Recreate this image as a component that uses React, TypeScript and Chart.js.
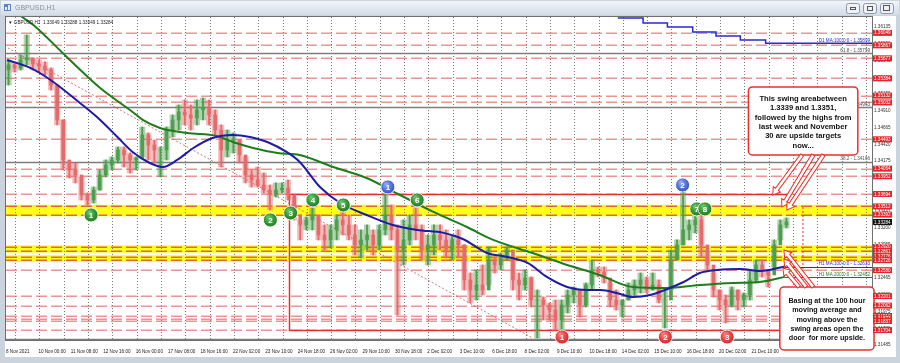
import React, { useEffect, useRef } from "react";
import { Chart, registerables } from "chart.js";

Chart.register(...registerables);

// ---------------- data ----------------
const barsPerCandle = 6; // each drawn candle aggregates 6 hourly bars
const firstOpen = 1.35507;
const candleHigh = [
  1.35653, 1.35624, 1.35726, 1.36018, 1.35682, 1.35653, 1.35624, 1.35536, 1.35287, 1.34776,
  1.34147, 1.34147, 1.33943, 1.33708, 1.33796, 1.34045, 1.34191, 1.34235, 1.34381, 1.34381,
  1.34293, 1.34235, 1.34673, 1.34586, 1.34482, 1.34381, 1.34673, 1.34849, 1.34995, 1.35068,
  1.34995, 1.35068, 1.35097, 1.35068, 1.34922, 1.34703, 1.34629, 1.34586, 1.34482, 1.34235,
  1.34045, 1.34088, 1.34001, 1.33825, 1.33855, 1.33855, 1.33898, 1.3365, 1.33314, 1.33357,
  1.33489, 1.33387, 1.33241, 1.33241, 1.33387, 1.3346, 1.33387, 1.33241, 1.33168, 1.33241,
  1.33168, 1.33241, 1.33708, 1.33533, 1.33241, 1.33314, 1.33387, 1.33489, 1.33241, 1.33095,
  1.33241, 1.33241, 1.33168, 1.33095, 1.33168, 1.32949, 1.32539, 1.32583, 1.32656, 1.32919,
  1.32773, 1.32831, 1.32919, 1.32729, 1.32539, 1.32583, 1.32481, 1.3229, 1.32188, 1.32101,
  1.32144, 1.32144, 1.3229, 1.32334, 1.3229, 1.32393, 1.32729, 1.32626, 1.32626, 1.32393,
  1.3229, 1.32144, 1.32393, 1.32437, 1.32539, 1.32481, 1.32539, 1.32437, 1.3229, 1.32875,
  1.33022, 1.33752, 1.33314, 1.33416, 1.33416, 1.32875, 1.32539, 1.3229, 1.32217, 1.32334,
  1.3229, 1.32246, 1.32583, 1.32729, 1.32729, 1.32583, 1.33022, 1.33314, 1.33343,
];
const candleLow = [
  1.35287, 1.35477, 1.35507, 1.3558, 1.35507, 1.35477, 1.35434, 1.35214, 1.34703, 1.34045,
  1.33928, 1.33855, 1.33606, 1.33533, 1.33562, 1.33752, 1.33943, 1.34045, 1.34147, 1.34088,
  1.34001, 1.34045, 1.34235, 1.34191, 1.34147, 1.33943, 1.34191, 1.34527, 1.34629, 1.34703,
  1.34629, 1.34703, 1.34776, 1.34703, 1.34556, 1.34088, 1.34235, 1.34293, 1.34147, 1.33855,
  1.33796, 1.33796, 1.33708, 1.3346, 1.3365, 1.33708, 1.33606, 1.33314, 1.33022, 1.33168,
  1.33168, 1.33022, 1.32875, 1.32904, 1.33022, 1.33095, 1.33022, 1.32802, 1.32758, 1.32875,
  1.32802, 1.32875, 1.33095, 1.33022, 1.31925, 1.32656, 1.32949, 1.33022, 1.32729, 1.32656,
  1.32802, 1.32875, 1.32758, 1.32729, 1.32758, 1.3229, 1.32101, 1.32144, 1.32217, 1.32363,
  1.32539, 1.32583, 1.32729, 1.3229, 1.32144, 1.3229, 1.32042, 1.31588, 1.31852, 1.31852,
  1.31705, 1.31705, 1.31954, 1.32101, 1.31895, 1.32042, 1.3229, 1.32481, 1.32393, 1.32042,
  1.31998, 1.31895, 1.32144, 1.32188, 1.32246, 1.32246, 1.3229, 1.32101, 1.31735, 1.3229,
  1.32729, 1.32949, 1.33022, 1.33125, 1.32773, 1.32583, 1.32188, 1.31998, 1.31808, 1.32042,
  1.31998, 1.32042, 1.32144, 1.32393, 1.32481, 1.32334, 1.32626, 1.33022, 1.33197,
];
const candleClose = [
  1.3558, 1.35536, 1.35653, 1.35682, 1.35594, 1.35565, 1.35507, 1.35287, 1.34776, 1.34191,
  1.34045, 1.33972, 1.33679, 1.33606, 1.33752, 1.33972, 1.34117, 1.34191, 1.34337, 1.34264,
  1.34191, 1.3422, 1.34556, 1.3441, 1.34337, 1.34337, 1.34629, 1.34776, 1.34893, 1.34849,
  1.34805, 1.34922, 1.34951, 1.34849, 1.34629, 1.34337, 1.34482, 1.34482, 1.34264, 1.33972,
  1.33898, 1.33825, 1.33752, 1.33679, 1.33752, 1.33781, 1.33679, 1.33387, 1.33241, 1.33314,
  1.33387, 1.33095, 1.33022, 1.33168, 1.33314, 1.33241, 1.33095, 1.32949, 1.33022, 1.33095,
  1.32949, 1.33168, 1.33387, 1.33168, 1.32875, 1.33022, 1.33241, 1.33168, 1.32875, 1.32949,
  1.33095, 1.33022, 1.32875, 1.33022, 1.32949, 1.32437, 1.3229, 1.32363, 1.3229, 1.32729,
  1.32656, 1.32758, 1.32875, 1.32437, 1.32363, 1.32466, 1.32144, 1.32144, 1.32071, 1.31998,
  1.31852, 1.32071, 1.32217, 1.3229, 1.32071, 1.32363, 1.32583, 1.32554, 1.32466, 1.32144,
  1.32071, 1.32144, 1.3229, 1.32363, 1.32437, 1.3229, 1.32363, 1.32144, 1.32144, 1.32729,
  1.32949, 1.33168, 1.33241, 1.33314, 1.32949, 1.32656, 1.3229, 1.32144, 1.32071, 1.3229,
  1.32144, 1.32217, 1.32437, 1.32656, 1.32583, 1.3251, 1.32949, 1.33241, 1.33284,
];

const ma100Index = [1, 24, 44, 73, 93, 110, 125, 142, 155, 169, 185, 204, 224, 241, 258, 277, 290, 310, 330, 356, 382, 406, 432, 451, 475, 495, 515, 534, 554, 574, 587, 603, 619, 636, 653, 669, 685, 702, 725, 745, 769];
const ma100Value = [1.35653, 1.35536, 1.3536, 1.35024, 1.34776, 1.34527, 1.34308, 1.34147, 1.34088, 1.34191, 1.34366, 1.34512, 1.34556, 1.34527, 1.34454, 1.34308, 1.34162, 1.33796, 1.33562, 1.33387, 1.33241, 1.33168, 1.33125, 1.33036, 1.32831, 1.32773, 1.32685, 1.32481, 1.32334, 1.3229, 1.3229, 1.32246, 1.32188, 1.32217, 1.32305, 1.32407, 1.32539, 1.32583, 1.32597, 1.32568, 1.32633];
const ma200Index = [0, 16, 27, 60, 93, 125, 135, 152, 179, 208, 224, 244, 268, 290, 323, 356, 389, 422, 455, 481, 520, 554, 577, 586, 619, 653, 685, 718, 744, 769];
const ma200Value = [1.36472, 1.36281, 1.36165, 1.35697, 1.35243, 1.34893, 1.34776, 1.34659, 1.34586, 1.34542, 1.34454, 1.34366, 1.34293, 1.34264, 1.34088, 1.33928, 1.33679, 1.33431, 1.33211, 1.33022, 1.32831, 1.32656, 1.32554, 1.3251, 1.32334, 1.32319, 1.32363, 1.32393, 1.32407, 1.32482];
const d1MaIndex = [604, 629, 653, 678, 701, 725, 750, 855];
const d1MaValue = [1.36267, 1.36193, 1.36135, 1.36062, 1.36004, 1.35946, 1.35899, 1.35899];

const timeTickIndex = [0, 32, 64, 96, 128, 160, 192, 224, 256, 288, 320, 352, 384, 416, 448, 480, 512, 544, 576, 608, 640, 672, 704, 736];
const timeTickLabels = ["8 Nov 2021", "10 Nov 00:00", "11 Nov 08:00", "12 Nov 16:00", "16 Nov 00:00", "17 Nov 08:00", "18 Nov 16:00", "22 Nov 02:00", "23 Nov 10:00", "24 Nov 18:00", "26 Nov 02:00", "29 Nov 10:00", "30 Nov 18:00", "2 Dec 02:00", "3 Dec 10:00", "6 Dec 18:00", "8 Dec 02:00", "9 Dec 10:00", "10 Dec 18:00", "14 Dec 02:00", "15 Dec 10:00", "16 Dec 18:00", "20 Dec 02:00", "21 Dec 10:00"];
const gridStartIndex = 9;
const gridStepBars = 24;
const lastBarIndex = 855;

const priceTickLabels = ["1.36135", "1.35890", "1.35645", "1.35400", "1.35156", "1.34910", "1.34665", "1.34420", "1.34175", "1.33931", "1.33686", "1.33441", "1.33200", "1.32955", "1.32710", "1.32465", "1.32220", "1.31975", "1.31730", "1.31485"];
const priceMin = 1.31559;
const priceMax = 1.36281;

const dashedLevels = [1.36049, 1.35867, 1.35677, 1.35384, 1.35132, 1.35032, 1.34493, 1.34064, 1.33952, 1.33694, 1.3258, 1.32201, 1.32062, 1.3191, 1.31873, 1.31837, 1.31704];
const bandLevels = [1.33512, 1.33392, 1.3292, 1.32861, 1.32776, 1.32726];
const bandHigh = [1.33512, 1.3292, 1.32776];
const bandLow = [1.33392, 1.32861, 1.32726];
const fibLevels = [1.35759, 1.34963, 1.34166];
const fibNames = ["61.8", "50.0", "38.2"];
const baseLevel = 1.31574;
const currentPrice = 1.33284;
const infoText = "\u25BC GBPUSD,H1  1.33049 1.33288 1.33049 1.33284";

const markerIndex = [84, 261, 281, 303, 333, 406, 682, 690, 377, 668, 549, 651, 712];
const markerPrice = [1.33387, 1.33314, 1.33416, 1.33606, 1.33533, 1.33606, 1.33475, 1.33475, 1.33796, 1.33825, 1.31603, 1.31603, 1.31603];
const markerText = ["1", "2", "3", "4", "5", "6", "7", "8", "1", "2", "1", "2", "3"];
const markerKind = ["g", "g", "g", "g", "g", "g", "g", "g", "b", "b", "r", "r", "r"];

const rangeBox = { i0: 279, i1: 772, top: 1.33694, bottom: 1.31704 };
const diagonal = { i0: 2, p0: 1.35828, i1: 520, p1: 1.31588 };

const note1 = { i0: 733, i1: 841, top: 1.35258, bottom: 1.34264 };
const note1Lines = ["This swing areabetween", "1.3339 and 1.3351,", "followed by the highs from", "last week and November", "30 are upside targets", "now..."];
const note2 = { i0: 764, i1: 857, top: 1.32334, bottom: 1.31413 };
const note2Lines = ["Basing at the 100 hour", "moving average and", "moving above the", "swing areas open the", "door  for more upside."];
const arrowFromIndex = [786, 797, 807, 797, 790, 783];
const arrowFromPrice = [1.34264, 1.34264, 1.34264, 1.32334, 1.32334, 1.32334];
const arrowToIndex = [757, 766, 771, 768, 768, 767];
const arrowToPrice = [1.33679, 1.33504, 1.3346, 1.32875, 1.32743, 1.32612];

// ---------------- drawing helpers ----------------
const FONT = '"Liberation Sans", Arial, "DejaVu Sans", sans-serif';
const UP = "#4f9d4f";
const DOWN = "#e46b6b";
const UP_SPREAD = "rgba(79,157,79,0.45)";
const DOWN_SPREAD = "rgba(228,107,107,0.45)";

function hollowArrow(ctx: CanvasRenderingContext2D, x1: number, y1: number, x2: number, y2: number) {
  const ang = Math.atan2(y2 - y1, x2 - x1);
  const len = Math.hypot(x2 - x1, y2 - y1);
  const sw = 1.8, hw = 4.5, hl = 7;
  ctx.save();
  ctx.translate(x1, y1);
  ctx.rotate(ang);
  ctx.beginPath();
  ctx.moveTo(0, -sw);
  ctx.lineTo(len - hl, -sw);
  ctx.lineTo(len - hl, -hw);
  ctx.lineTo(len, 0);
  ctx.lineTo(len - hl, hw);
  ctx.lineTo(len - hl, sw);
  ctx.lineTo(0, sw);
  ctx.closePath();
  ctx.fillStyle = "#ffffff";
  ctx.fill();
  ctx.strokeStyle = "#e8302a";
  ctx.lineWidth = 1;
  ctx.stroke();
  ctx.restore();
}

function marker(ctx: CanvasRenderingContext2D, x: number, y: number, text: string, kind: string) {
  const cols: Record<string, string[]> = {
    g: ["#63c463", "#1c751c"],
    b: ["#8aa6f7", "#2c4dc2"],
    r: ["#ff7a7a", "#cf2020"],
  };
  const c = cols[kind];
  const gr = ctx.createRadialGradient(x - 2, y - 3, 1, x, y, 7.5);
  gr.addColorStop(0, c[0]);
  gr.addColorStop(1, c[1]);
  ctx.beginPath();
  ctx.arc(x, y, 7, 0, Math.PI * 2);
  ctx.fillStyle = gr;
  ctx.fill();
  ctx.lineWidth = 1;
  ctx.strokeStyle = "rgba(255,255,255,0.9)";
  ctx.stroke();
  ctx.fillStyle = "#ffffff";
  ctx.font = `bold 8px ${FONT}`;
  ctx.textAlign = "center";
  ctx.textBaseline = "middle";
  ctx.fillText(text, x, y + 0.5);
}

function hline(ctx: CanvasRenderingContext2D, x0: number, x1: number, y: number) {
  ctx.beginPath();
  ctx.moveTo(x0, y);
  ctx.lineTo(x1, y);
  ctx.stroke();
}

const decorPlugin = {
  id: "mt4decor",
  beforeDraw(chart: any) {
    const { ctx, chartArea: a } = chart;
    const X = (v: number) => chart.scales.x.getPixelForValue(v);
    const Y = (v: number) => chart.scales.y.getPixelForValue(v);
    const W = chart.width, H = chart.height;
    ctx.save();
    ctx.fillStyle = "#cbd3dd";
    ctx.fillRect(0, 0, W, H);
    const tg = ctx.createLinearGradient(0, 0, 0, 15);
    tg.addColorStop(0, "#f4f7fb");
    tg.addColorStop(1, "#d3dce8");
    ctx.fillStyle = tg;
    ctx.fillRect(1, 1, W - 2, 14);
    ctx.fillStyle = "#5b84c4";
    ctx.fillRect(4, 4, 7, 7);
    ctx.fillStyle = "#e8eef7";
    ctx.fillRect(5, 7, 2, 3);
    ctx.fillRect(8, 5, 2, 5);
    ctx.font = `7px ${FONT}`;
    ctx.fillStyle = "#8d939c";
    ctx.textBaseline = "middle";
    ctx.textAlign = "left";
    ctx.fillText("GBPUSD,H1", 15, 8.5);
    [846, 863, 880].forEach((bx, k) => {
      ctx.beginPath();
      ctx.roundRect(bx + 0.5, 3.5, 13, 10, 2);
      ctx.fillStyle = "#eef2f7";
      ctx.fill();
      ctx.strokeStyle = "#8e99a8";
      ctx.lineWidth = 1;
      ctx.stroke();
      ctx.strokeStyle = "#555";
      if (k === 0) { ctx.strokeRect(bx + 4.5, 7.5, 5, 2); }
      if (k === 1) { ctx.strokeRect(bx + 4.5, 6.5, 5, 4); }
      if (k === 2) { ctx.strokeRect(bx + 3.5, 5.5, 6, 5); }
    });
    // white chart panel and axis strips
    ctx.fillStyle = "#ffffff";
    ctx.fillRect(a.left - 1, a.top - 1, W - a.left - 3, H - a.top - 5);

    // yellow swing bands
    ctx.fillStyle = "#ffff1a";
    for (let k = 0; k < bandHigh.length; k++) {
      const y1 = Y(bandHigh[k]) - 1.6, y2 = Y(bandLow[k]) + 1.6;
      ctx.fillRect(a.left, y1, a.right - a.left, y2 - y1);
    }
    // vertical dotted grid
    ctx.strokeStyle = "#7a7a7a";
    ctx.lineWidth = 1;
    ctx.setLineDash([1, 2]);
    for (let i = gridStartIndex; i <= lastBarIndex; i += gridStepBars) {
      const x = Math.round(X(i)) + 0.5;
      ctx.beginPath();
      ctx.moveTo(x, a.top);
      ctx.lineTo(x, a.bottom);
      ctx.stroke();
    }
    // dashed horizontal levels
    ctx.setLineDash([11, 4]);
    ctx.lineWidth = 1.5;
    ctx.strokeStyle = "rgba(226,104,104,0.7)";
    dashedLevels.forEach((v) => hline(ctx, a.left, a.right, Math.round(Y(v)) + 0.25));
    ctx.strokeStyle = "rgba(220,80,50,0.85)";
    bandLevels.forEach((v) => hline(ctx, a.left, a.right, Math.round(Y(v)) + 0.25));
    // fib lines (solid gray)
    ctx.setLineDash([]);
    ctx.strokeStyle = "#7d7d7d";
    ctx.lineWidth = 1.3;
    fibLevels.forEach((v) => hline(ctx, a.left, a.right, Math.round(Y(v)) + 0.5));
    hline(ctx, a.left, a.right, Math.round(Y(baseLevel)) + 0.5);
    // diagonal dotted trend line
    ctx.setLineDash([2, 2]);
    ctx.lineWidth = 1;
    ctx.strokeStyle = "rgba(215,100,100,0.9)";
    ctx.beginPath();
    ctx.moveTo(X(diagonal.i0), Y(diagonal.p0));
    ctx.lineTo(X(diagonal.i1), Y(diagonal.p1));
    ctx.stroke();
    // range rectangle
    ctx.setLineDash([]);
    ctx.strokeStyle = "#e8302a";
    ctx.lineWidth = 1.5;
    const rx0 = Math.round(X(rangeBox.i0)) + 0.5, rx1 = X(rangeBox.i1);
    const ry0 = Math.round(Y(rangeBox.top)) + 0.5, ry1 = Math.round(Y(rangeBox.bottom)) + 0.5;
    ctx.beginPath();
    ctx.moveTo(rx1, ry0);
    ctx.lineTo(rx0, ry0);
    ctx.lineTo(rx0, ry1);
    ctx.lineTo(rx1 + 8, ry1);
    ctx.stroke();
    ctx.setLineDash([2, 2]);
    ctx.lineWidth = 1;
    ctx.beginPath();
    ctx.moveTo(rx1 + 15, Y(1.33504));
    ctx.lineTo(rx1 + 15, Y(1.32395));
    ctx.stroke();
    ctx.restore();
  },
  afterDraw(chart: any) {
    const { ctx, chartArea: a } = chart;
    const X = (v: number) => chart.scales.x.getPixelForValue(v);
    const Y = (v: number) => chart.scales.y.getPixelForValue(v);
    ctx.save();
    // chart border
    ctx.strokeStyle = "#6f6f6f";
    ctx.lineWidth = 1;
    ctx.strokeRect(a.left - 0.5, a.top - 0.5, a.right - a.left + 1, a.bottom - a.top + 1);
    ctx.textBaseline = "alphabetic";
    ctx.font = `4.6px ${FONT}`;
    // info line
    ctx.fillStyle = "#222";
    ctx.textAlign = "left";
    ctx.fillText(infoText, a.left + 2, a.top + 7);
    // fib labels
    ctx.textAlign = "right";
    ctx.fillStyle = "#555";
    fibLevels.forEach((v, k) => ctx.fillText(`${fibNames[k]} - ${v.toFixed(5)}`, a.right - 2, Y(v) - 1.2));
    // MA labels
    ctx.lineWidth = 1;
    ctx.strokeStyle = "#2a2ad0";
    hline(ctx, X(ma100Index[ma100Index.length - 1]), a.right, Math.round(Y(ma100Value[ma100Value.length - 1])) + 0.5);
    ctx.strokeStyle = "#1d7d1d";
    hline(ctx, X(ma200Index[ma200Index.length - 1]), a.right, Math.round(Y(ma200Value[ma200Value.length - 1])) + 0.5);
    ctx.fillStyle = "#2a2ad0";
    ctx.fillText(`D1 MA:100:0:0 - ${d1MaValue[d1MaValue.length - 1].toFixed(5)}`, a.right - 2, Y(d1MaValue[d1MaValue.length - 1]) - 1.5);
    ctx.fillText(`H1 MA:100:0:0 - ${ma100Value[ma100Value.length - 1].toFixed(5)}`, a.right - 2, Y(ma100Value[ma100Value.length - 1]) - 1.2);
    ctx.fillStyle = "#1d7d1d";
    ctx.fillText(`H1 MA:200:0:0 - ${ma200Value[ma200Value.length - 1].toFixed(5)}`, a.right - 2, Y(ma200Value[ma200Value.length - 1]) - 1.2);

    // numbered swing markers
    for (let k = 0; k < markerIndex.length; k++) {
      marker(ctx, X(markerIndex[k]), Y(markerPrice[k]), markerText[k], markerKind[k]);
    }

    // note boxes
    const drawNote = (n: any, lines: string[], firstOffset: number, step: number, size: number) => {
      const x0 = X(n.i0), x1 = X(n.i1), y0 = Y(n.top), y1 = Y(n.bottom);
      ctx.beginPath();
      ctx.roundRect(x0, y0, x1 - x0, y1 - y0, 4);
      ctx.fillStyle = "#ffffff";
      ctx.fill();
      ctx.strokeStyle = "#e8302a";
      ctx.lineWidth = 1.5;
      ctx.stroke();
      ctx.fillStyle = "#111";
      ctx.font = `bold ${size}px ${FONT}`;
      ctx.textAlign = "center";
      ctx.textBaseline = "middle";
      lines.forEach((t, k) => ctx.fillText(t, (x0 + x1) / 2, y0 + firstOffset + k * step));
    };
    drawNote(note1, note1Lines, 12, 9.3, 7.6);
    drawNote(note2, note2Lines, 14, 9.3, 7.2);
    for (let k = 0; k < arrowFromIndex.length; k++) {
      hollowArrow(ctx, X(arrowFromIndex[k]), Y(arrowFromPrice[k]), X(arrowToIndex[k]), Y(arrowToPrice[k]));
    }

    // price labels on the right axis
    ctx.font = `4.6px ${FONT}`;
    ctx.textAlign = "left";
    ctx.textBaseline = "middle";
    const tag = (v: number, bg: string) => {
      const yy = Y(v);
      ctx.fillStyle = bg;
      ctx.fillRect(a.right + 1, yy - 3, 19, 6);
      ctx.fillStyle = "#ffffff";
      ctx.fillText(v.toFixed(5), a.right + 2, yy + 0.3);
    };
    dashedLevels.forEach((v) => tag(v, "#e3262b"));
    bandLevels.forEach((v) => tag(v, "#e3262b"));
    tag(currentPrice, "#111111");
    ctx.restore();
  },
};

export default function App() {
  const ref = useRef<HTMLCanvasElement>(null);
  useEffect(() => {
    document.body.style.margin = "0";
    const opens = candleClose.map((c, g) => (g === 0 ? firstOpen : candleClose[g - 1]));
    const centers = candleClose.map((_, g) => g * barsPerCandle + (barsPerCandle - 1) / 2);
    const up = candleClose.map((c, g) => c >= opens[g]);
    const chart = new Chart(ref.current as HTMLCanvasElement, {
      type: "bar",
      data: {
        datasets: [
          {
            type: "line",
            data: ma100Index.map((x, k) => ({ x, y: ma100Value[k] })),
            borderColor: "#1c1ca8",
            borderWidth: 2,
            pointRadius: 0,
            cubicInterpolationMode: "monotone",
            order: 0,
          } as any,
          {
            type: "line",
            data: ma200Index.map((x, k) => ({ x, y: ma200Value[k] })),
            borderColor: "#1d7d1d",
            borderWidth: 2,
            pointRadius: 0,
            cubicInterpolationMode: "monotone",
            order: 0,
          } as any,
          {
            type: "line",
            data: d1MaIndex.map((x, k) => ({ x, y: d1MaValue[k] })),
            borderColor: "#2a2ad0",
            borderWidth: 1.5,
            pointRadius: 0,
            stepped: true,
            order: 0,
          } as any,
          {
            type: "bar",
            data: centers.map((x, g) => ({ x, y: [candleLow[g], candleHigh[g]] })),
            backgroundColor: up.map((u) => (u ? UP_SPREAD : DOWN_SPREAD)),
            barThickness: 5.5,
            grouped: false,
            order: 3,
          } as any,
          {
            type: "bar",
            data: centers.map((x, g) => ({ x, y: [candleLow[g], candleHigh[g]] })),
            backgroundColor: up.map((u) => (u ? UP : DOWN)),
            barThickness: 1.2,
            grouped: false,
            order: 2,
          } as any,
          {
            type: "bar",
            data: centers.map((x, g) => ({ x, y: [opens[g], candleClose[g]] })),
            backgroundColor: up.map((u) => (u ? UP : DOWN)),
            barThickness: 3,
            grouped: false,
            order: 1,
          } as any,
        ],
      },
      options: {
        responsive: false,
        animation: false,
        devicePixelRatio: 1,
        events: [],
        layout: { padding: { top: 17, left: 6, right: 4, bottom: 5 } },
        plugins: { legend: { display: false }, tooltip: { enabled: false } },
        scales: {
          x: {
            type: "linear",
            min: 0,
            max: lastBarIndex,
            offset: false,
            grid: { display: false, drawTicks: false, offset: false },
            border: { display: false },
            afterBuildTicks: (s: any) => { s.ticks = timeTickIndex.map((v) => ({ value: v })); },
            afterFit: (s: any) => { s.height = 18; s.paddingLeft = 0; s.paddingRight = 0; },
            ticks: {
              autoSkip: false,
              maxRotation: 0,
              minRotation: 0,
              align: "start",
              padding: 9,
              color: "#222",
              font: { size: 4.6, family: FONT },
              callback: (_v: any, i: number) => timeTickLabels[i],
            },
          },
          y: {
            type: "linear",
            position: "right",
            min: priceMin,
            max: priceMax,
            grid: { display: false, drawTicks: false },
            border: { display: false },
            afterBuildTicks: (s: any) => { s.ticks = priceTickLabels.map((t) => ({ value: parseFloat(t) })); },
            afterFit: (s: any) => { s.width = 24; s.paddingTop = 0; s.paddingBottom = 0; },
            ticks: {
              padding: 2,
              color: "#333",
              font: { size: 4.6, family: FONT },
              callback: (_v: any, i: number) => priceTickLabels[i],
            },
          },
        },
      } as any,
      plugins: [decorPlugin],
    });
    return () => chart.destroy();
  }, []);
  return (
    <div style={{ width: 900, height: 363 }}>
      <canvas ref={ref} width={900} height={363} style={{ display: "block" }} />
    </div>
  );
}
